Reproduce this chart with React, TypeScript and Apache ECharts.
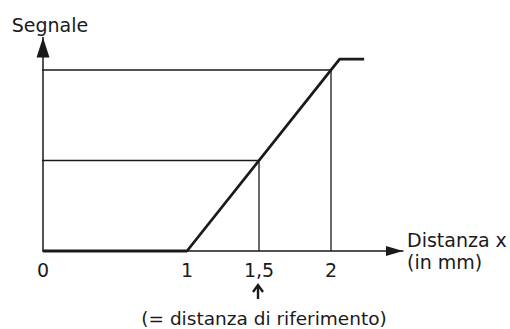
import React, { useEffect, useRef } from "react";
import * as echarts from "echarts";

const xTicks = [0, 1, 1.5, 2];
const tickLabels = ["0", "1", "1,5", "2"];
const signalX = [0, 1, 2.06, 2.23];
const signalY = [0, 0, 1.06, 1.06];
const refGuideX = [-0.07, 1.5, 1.5];
const refGuideY = [0.5, 0.5, 0];
const fullGuideX = [-0.05, 2, 2];
const fullGuideY = [1, 1, 0];
const xAxisName = "Distanza x\n(in mm)";
const yAxisName = "Segnale";
const refNote = "(= distanza di riferimento)";
const refValue = 1.5;

const FONT = "DejaVu Sans";
const INK = "#1a1a1a";

const pairs = (xs: number[], ys: number[]) => xs.map((x, i) => [x, ys[i]]);

export default function App() {
  const ref = useRef<HTMLDivElement>(null);
  useEffect(() => {
    document.body.style.margin = "0";
    const chart = echarts.init(ref.current!, null, { renderer: "svg" });
    const guideStyle = { color: INK, width: 1.3 };
    chart.setOption({
      animation: false,
      backgroundColor: "#fff",
      grid: { left: 43, right: 107, top: 37.4, bottom: 78, containLabel: false, outerBoundsMode: "none" },
      xAxis: {
        type: "value",
        min: 0,
        max: 2.5,
        name: xAxisName,
        nameLocation: "end",
        nameGap: 4,
        nameTextStyle: { fontFamily: FONT, fontSize: 19, lineHeight: 22, color: INK, align: "left", verticalAlign: "middle" },
        axisLine: { show: true, symbol: ["none", "triangle"], symbolSize: [10, 17], symbolOffset: [0, -8.5], lineStyle: { color: INK, width: 1.5 } },
        axisTick: { show: false },
        splitLine: { show: false },
        axisLabel: {
          customValues: xTicks,
          margin: 9,
          fontFamily: FONT,
          fontSize: 19,
          color: INK,
          formatter: (v: number) => tickLabels[xTicks.indexOf(v)] ?? "",
        },
      },
      yAxis: {
        type: "value",
        min: 0,
        max: 1.18,
        name: yAxisName,
        nameLocation: "end",
        nameGap: 2,
        nameTextStyle: { fontFamily: FONT, fontSize: 19, lineHeight: 20, color: INK, padding: [0, 0, 0, 14] },
        axisLine: { show: true, symbol: ["none", "triangle"], symbolSize: [13, 20], symbolOffset: [0, -10], lineStyle: { color: INK, width: 1.5 } },
        axisTick: { show: false },
        splitLine: { show: false },
        axisLabel: { show: false },
      },
      series: [
        { type: "line", data: pairs(refGuideX, refGuideY), showSymbol: false, clip: false, lineStyle: guideStyle, z: 2 },
        { type: "line", data: pairs(fullGuideX, fullGuideY), showSymbol: false, clip: false, lineStyle: guideStyle, z: 2 },
        { type: "line", data: pairs(signalX, signalY), showSymbol: false, clip: false, lineStyle: { color: INK, width: 2.8 }, z: 3 },
      ],
    });
    const p = chart.convertToPixel({ gridIndex: 0 }, [refValue, 0]) as number[];
    const ax = p[0] - 1;
    const tipY = p[1] + 34;
    chart.setOption({
      graphic: [
        { type: "line", shape: { x1: ax, y1: tipY + 1, x2: ax, y2: tipY + 14 }, style: { stroke: INK, lineWidth: 2.4 } },
        { type: "polyline", shape: { points: [[ax - 5, tipY + 7], [ax, tipY], [ax + 5, tipY + 7]] }, style: { stroke: INK, lineWidth: 2.4, fill: null } },
        { type: "text", x: ax + 6, y: tipY + 33, style: { text: refNote, fontFamily: FONT, fontSize: 18.5, fill: INK, textAlign: "center", textVerticalAlign: "middle" } },
      ],
    });
    return () => chart.dispose();
  }, []);
  return <div ref={ref} style={{ width: 510, height: 329 }} />;
}
